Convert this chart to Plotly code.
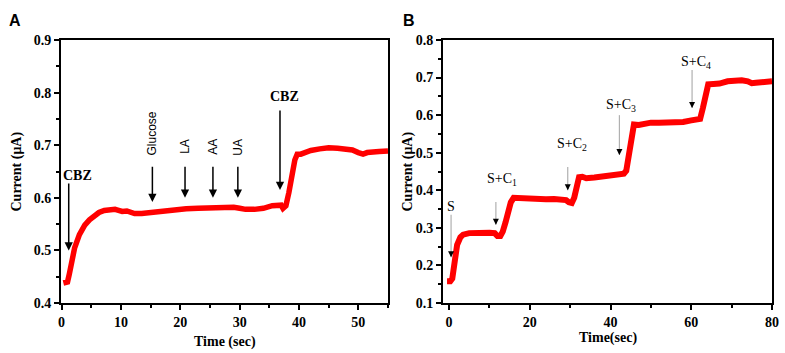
import plotly.graph_objects as go

# Panel A data
xA = [0.3, 0.6, 1.0, 1.3, 1.7, 2.2, 3.0, 3.9, 4.7, 5.5, 6.3, 7.2, 8.1, 9.0, 9.6, 10.2, 11.0, 11.6, 12.3, 13.5,
      15.0, 17.0, 19.0, 21.0, 23.0, 25.0, 27.0, 29.0, 30.0, 31.0, 32.5, 34.0, 35.5, 36.5, 37.0, 37.3, 37.8,
      38.3, 38.8, 39.3, 39.7, 40.3, 41.0, 42.0, 43.5, 45.0, 46.5, 48.0, 49.0, 50.0, 50.8, 51.5, 52.5, 53.5, 55.0]
yA = [0.438, 0.438, 0.44, 0.455, 0.485, 0.505, 0.53, 0.548, 0.558, 0.566, 0.572, 0.576, 0.578, 0.578, 0.576,
      0.574, 0.575, 0.573, 0.57, 0.57, 0.572, 0.575, 0.577, 0.579, 0.58, 0.581, 0.582, 0.582, 0.58, 0.578,
      0.578, 0.58, 0.585, 0.587, 0.586, 0.58, 0.585, 0.61, 0.645, 0.672, 0.683, 0.683, 0.686, 0.69, 0.693,
      0.695, 0.694, 0.693, 0.691, 0.686, 0.683, 0.686, 0.688, 0.688, 0.689]

# Panel B data
xB = [-0.5, 0.3, 0.8, 1.3, 2.0, 2.8, 3.5, 5.0, 7.5, 10.0, 11.3, 12.0, 12.7, 13.3, 14.0, 14.7, 15.3, 16.0,
      18.0, 20.0, 22.0, 24.0, 26.0, 28.0, 29.0, 29.7, 30.4, 31.0, 31.6, 32.2, 33.0, 34.0, 36.0, 38.0, 40.0,
      42.0, 43.3, 43.9, 44.5, 45.1, 45.8, 47.0, 48.5, 50.0, 52.0, 54.0, 56.0, 58.0, 60.0, 61.5, 62.2, 62.9,
      63.5, 64.2, 65.5, 67.0, 69.0, 71.0, 72.5, 74.0, 75.0, 76.0, 78.0, 80.0]
yB = [0.158, 0.158, 0.165, 0.195, 0.255, 0.275, 0.282, 0.286, 0.288, 0.287, 0.286, 0.278, 0.278, 0.29,
      0.315, 0.345, 0.368, 0.38, 0.378, 0.377, 0.378, 0.376, 0.377, 0.376, 0.374, 0.368, 0.366, 0.38, 0.41,
      0.435, 0.436, 0.432, 0.434, 0.437, 0.44, 0.442, 0.444, 0.452, 0.49, 0.545, 0.575, 0.574, 0.578, 0.58,
      0.58, 0.58, 0.58, 0.582, 0.586, 0.589, 0.59, 0.62, 0.66, 0.682, 0.683, 0.684, 0.69, 0.693, 0.693,
      0.69, 0.685, 0.686, 0.688, 0.69]

# Tick values / labels
xA_ticks = [0, 10, 20, 30, 40, 50]
yA_ticks = [0.4, 0.5, 0.6, 0.7, 0.8, 0.9]
xB_ticks = [0, 20, 40, 60, 80]
yB_ticks = [0.1, 0.2, 0.3, 0.4, 0.5, 0.6, 0.7, 0.8]

# Annotations panel A: label, x, tail y, head y, label position, rotated
annA_labels = ["CBZ", "Glucose", "LA", "AA", "UA", "CBZ"]
annA_x = [1.2, 15.3, 20.8, 25.5, 29.7, 36.8]
annA_tail = [0.63, 0.662, 0.662, 0.662, 0.662, 0.769]
annA_head = [0.50, 0.592, 0.60, 0.60, 0.60, 0.615]
annA_tx = [2.7, 15.3, 20.8, 25.5, 29.7, 37.5]
annA_ty = [0.643, 0.723, 0.697, 0.697, 0.697, 0.792]
annA_rot = [False, True, True, True, True, False]

# Annotations panel B
annB_labels = ["S", "S+C<sub>1</sub>", "S+C<sub>2</sub>", "S+C<sub>3</sub>", "S+C<sub>4</sub>"]
annB_x = [0.5, 11.6, 29.4, 42.2, 60.2]
annB_tail = [0.335, 0.369, 0.462, 0.60, 0.72]
annB_head = [0.222, 0.308, 0.40, 0.494, 0.619]
annB_tx = [0.6, 13.1, 30.4, 42.7, 61.2]
annB_ty = [0.356, 0.428, 0.521, 0.627, 0.739]

W, H = 785, 353
serif = "Liberation Serif, Times New Roman, serif"
sans = "Liberation Sans, Arial, sans-serif"

fig = go.Figure()
fig.add_trace(go.Scatter(x=xA, y=yA, mode="lines", line=dict(color="#ff0000", width=5.5),
                         xaxis="x", yaxis="y", showlegend=False))
fig.add_trace(go.Scatter(x=xB, y=yB, mode="lines", line=dict(color="#ff0000", width=6),
                         xaxis="x2", yaxis="y2", showlegend=False))

def bold(vals, fmt):
    return ["<b>" + format(v, fmt) + "</b>" for v in vals]

def axstyle(**kw):
    d = dict(showline=True, linecolor="black", linewidth=2, mirror=True, ticks="outside",
             ticklen=5, tickwidth=1.5, tickcolor="black", showgrid=False, zeroline=False,
             automargin=False, tickmode="array",
             tickfont=dict(family=serif, size=14, color="black"))
    d.update(kw)
    return d

ytop = 1 - 40 / H
ybot = 1 - 303 / H
fig.update_layout(
    width=W, height=H, margin=dict(l=0, r=0, t=0, b=0, autoexpand=False),
    paper_bgcolor="white", plot_bgcolor="white",
    xaxis=axstyle(domain=[61 / W, 388 / W], range=[-0.1, 55], anchor="y",
                  tickvals=xA_ticks, ticktext=bold(xA_ticks, "d"),
                  minor=dict(ticks="outside", dtick=5, tick0=0, ticklen=3, tickcolor="black")),
    yaxis=axstyle(domain=[ybot, ytop], range=[0.4, 0.9], anchor="x",
                  tickvals=yA_ticks, ticktext=bold(yA_ticks, ".1f"),
                  minor=dict(ticks="outside", dtick=0.05, tick0=0, ticklen=3, tickcolor="black")),
    xaxis2=axstyle(domain=[443 / W, 772 / W], range=[-1.5, 80], anchor="y2",
                   tickvals=xB_ticks, ticktext=bold(xB_ticks, "d"),
                   minor=dict(ticks="outside", dtick=10, tick0=0, ticklen=3, tickcolor="black")),
    yaxis2=axstyle(domain=[ybot, ytop], range=[0.1, 0.8], anchor="x2",
                   tickvals=yB_ticks, ticktext=bold(yB_ticks, ".1f"),
                   minor=dict(ticks="outside", dtick=0.05, tick0=0, ticklen=3, tickcolor="black")),
)

ann = []
for i, lab in enumerate(annA_labels):
    ann.append(dict(x=annA_x[i], y=annA_head[i], ax=annA_x[i], ay=annA_tail[i], xref="x", yref="y",
                    axref="x", ayref="y", text="", showarrow=True, arrowhead=2, arrowsize=1.1,
                    arrowwidth=1.5, arrowcolor="black"))
    if annA_rot[i]:
        ann.append(dict(x=annA_tx[i], y=annA_ty[i], xref="x", yref="y", text=lab, showarrow=False,
                        textangle=-90, font=dict(family=sans, size=12, color="black")))
    else:
        ann.append(dict(x=annA_tx[i], y=annA_ty[i], xref="x", yref="y", text="<b>" + lab + "</b>",
                        showarrow=False, font=dict(family=serif, size=14, color="black")))

shapes = []
for i, lab in enumerate(annB_labels):
    shapes.append(dict(type="line", xref="x2", yref="y2", x0=annB_x[i], x1=annB_x[i],
                       y0=annB_tail[i], y1=annB_head[i], line=dict(color="#b0b0b0", width=1.2)))
    ann.append(dict(x=annB_x[i], y=annB_head[i], ax=0, ay=-6, xref="x2", yref="y2",
                    text="", showarrow=True, arrowhead=2, arrowsize=1, arrowwidth=1.2,
                    arrowcolor="black"))
    ann.append(dict(x=annB_tx[i], y=annB_ty[i], xref="x2", yref="y2", text=lab, showarrow=False,
                    font=dict(family=serif, size=14, color="black")))

# Axis titles as annotations (fixed pixel positions)
tfont = dict(family=serif, size=14, color="black")
common = dict(xref="paper", yref="paper", showarrow=False, font=tfont, xanchor="center", yanchor="middle")
ann.append(dict(x=(61 + 388) / 2 / W, y=1 - 342 / H, text="<b>Time (sec)</b>", **common))
ann.append(dict(x=(443 + 772) / 2 / W, y=1 - 338 / H, text="<b>Time(sec)</b>", **common))
ann.append(dict(x=16 / W, y=(ytop + ybot) / 2, text="<b>Current (μA)</b>", textangle=-90, **common))
ann.append(dict(x=407 / W, y=(ytop + ybot) / 2, text="<b>Current (μA)</b>", textangle=-90, **common))

lfont = dict(family=sans, size=16, color="black")
ann.append(dict(x=15 / W, y=1 - 20 / H, xref="paper", yref="paper", text="<b>A</b>", showarrow=False,
                font=lfont, xanchor="center", yanchor="middle"))
ann.append(dict(x=409 / W, y=1 - 20 / H, xref="paper", yref="paper", text="<b>B</b>", showarrow=False,
                font=lfont, xanchor="center", yanchor="middle"))

fig.update_layout(annotations=ann, shapes=shapes)
fig.write_html("out.html", config={"displayModeBar": False},
               post_script="document.body.style.margin='0';")
